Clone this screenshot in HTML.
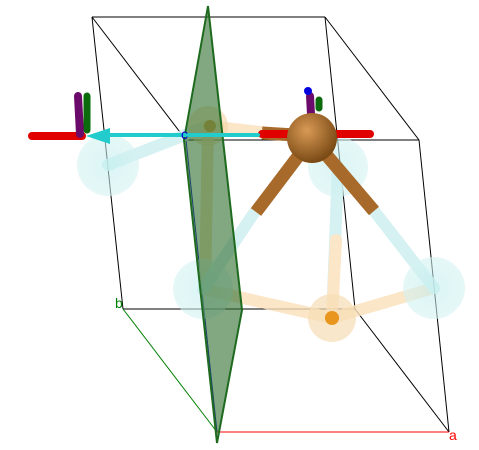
<!DOCTYPE html>
<html><head><meta charset="utf-8"><style>
html,body{margin:0;padding:0;background:#fff;width:479px;height:450px;overflow:hidden}
svg{display:block;font-family:"Liberation Sans",sans-serif}
</style></head><body>
<svg width="479" height="450" viewBox="0 0 479 450">
<defs>
<radialGradient id="brown" cx="40%" cy="35%" r="65%"><stop offset="0" stop-color="#d99a55"/><stop offset="1" stop-color="#7a4a15"/></radialGradient>
<radialGradient id="cy" cx="50%" cy="50%" r="50%"><stop offset="0" stop-color="#bfeeee" stop-opacity="0.55"/><stop offset="1" stop-color="#d5f2f2" stop-opacity="0.6"/></radialGradient>
</defs>
<g stroke="#000" stroke-width="1" fill="none">
<line x1="92" y1="17" x2="325" y2="17"/><line x1="325" y1="17" x2="419" y2="140"/>
<line x1="92" y1="17" x2="186" y2="140"/><line x1="186" y1="140" x2="419" y2="140"/>
<line x1="92" y1="17" x2="123" y2="309"/><line x1="325" y1="17" x2="355" y2="309"/>
<line x1="419" y1="140" x2="449" y2="432"/><line x1="123" y1="309" x2="355" y2="309"/>
<line x1="355" y1="309" x2="449" y2="432"/>
<line x1="186" y1="140" x2="217" y2="432" stroke="#0000cc"/>
<line x1="123" y1="309" x2="217" y2="432" stroke="#008000"/>
<line x1="217" y1="432" x2="449" y2="432" stroke="#ff0000"/>
</g>
<g stroke-linecap="round" stroke-width="12" opacity="0.8">
<line x1="108" y1="165" x2="208" y2="126" stroke="#cdeef0"/>
<line x1="208" y1="126" x2="312" y2="138" stroke="#fbe0bb"/>
<line x1="208" y1="126" x2="205" y2="289" stroke="#f4d6a8"/>
<line x1="338" y1="167" x2="332" y2="318" stroke="#cdeef0"/>
<line x1="336" y1="240" x2="332" y2="318" stroke="#fbe0bb"/>
<line x1="203" y1="289" x2="332" y2="318" stroke="#fbe0bb"/>
<line x1="332" y1="318" x2="434" y2="288" stroke="#fbe0bb"/>
<line x1="254" y1="213" x2="203" y2="289" stroke="#cdeef0"/>
<line x1="375" y1="212" x2="434" y2="288" stroke="#cdeef0"/>
</g>
<g>
<circle cx="108" cy="165" r="31" fill="url(#cy)"/>
<circle cx="338" cy="167" r="30" fill="url(#cy)"/>
<circle cx="203" cy="289" r="30" fill="url(#cy)"/>
<circle cx="434" cy="288" r="31" fill="url(#cy)"/>
<circle cx="208" cy="126" r="20" fill="#f3d3a5" opacity="0.6"/>
<circle cx="210" cy="126" r="6" fill="#d08a20" opacity="0.7"/>
<circle cx="332" cy="318" r="24" fill="#f7ddb5" opacity="0.7"/>
<circle cx="332" cy="318" r="7" fill="#e8961e"/>
</g>
<polygon points="208,6 242,310 217,443 184,140" fill="#2e6e2e" fill-opacity="0.6" stroke="#1e6a1e" stroke-width="2"/>
<g stroke="#a86a2a" stroke-width="13">
<line x1="312" y1="138" x2="256" y2="212"/>
<line x1="312" y1="138" x2="374" y2="211"/>
<line x1="312" y1="136" x2="262" y2="133"/>
</g>
<g stroke-linecap="round">
<line x1="32" y1="136" x2="82" y2="136" stroke="#e00000" stroke-width="8"/>
<line x1="262" y1="134" x2="370" y2="134" stroke="#e00000" stroke-width="8"/>
<line x1="258" y1="135" x2="100" y2="135" stroke="#22cccc" stroke-width="4"/>
<polygon points="86,136 110,128 110,144" fill="#22cccc"/>
<line x1="87" y1="96" x2="87" y2="130" stroke="#0b6a0b" stroke-width="7"/>
<line x1="78" y1="96" x2="80" y2="134" stroke="#6a0a6a" stroke-width="8"/>
<line x1="319" y1="100" x2="319" y2="108" stroke="#0b6a0b" stroke-width="7"/>
<line x1="310" y1="96" x2="311" y2="114" stroke="#6a0a6a" stroke-width="8"/>
<circle cx="308" cy="91" r="4" fill="#0000dd"/>
</g>
<circle cx="312" cy="138" r="25" fill="url(#brown)"/>
<text x="449" y="440" fill="#ff0000" font-size="14">a</text>
<text x="115" y="308" fill="#008000" font-size="14">b</text>
<text x="181" y="139" fill="#0000cc" font-size="14">c</text>
</svg>
</body></html>
